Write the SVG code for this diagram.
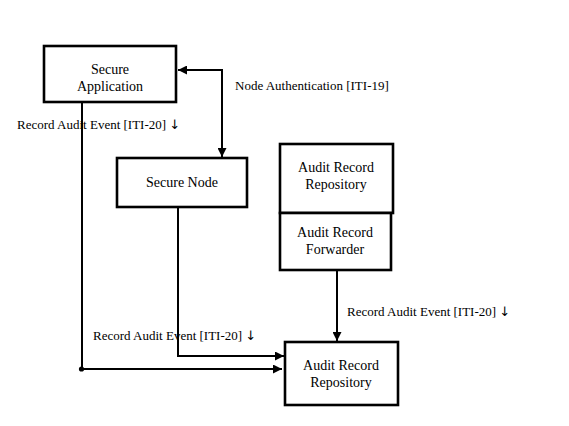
<svg xmlns="http://www.w3.org/2000/svg" width="569" height="426" viewBox="0 0 569 426">
<style>
.box{fill:#fff;stroke:#000;stroke-width:2.6}
.nt{font-family:'Liberation Serif',serif;font-size:14px;fill:#000;text-anchor:middle}
.lb{font-family:'Liberation Serif',serif;font-size:13px;fill:#000}
.ar{font-family:'DejaVu Sans',sans-serif;font-size:13px;fill:#000;stroke:none}
.ln{fill:none;stroke:#000;stroke-width:2}
</style>
<defs>
<marker id="ah" viewBox="0 0 10 10" refX="10" refY="5" markerWidth="4.5" markerHeight="4.5" orient="auto-start-reverse" markerUnits="strokeWidth">
<path d="M0,0 L10,5 L0,10 z" fill="#000"/>
</marker>
</defs>
<rect width="569" height="426" fill="#fff"/>
<g id="connectors">
<polyline class="ln" points="178,70 222,70 222,157" marker-start="url(#ah)" marker-end="url(#ah)"/>
<polyline class="ln" points="82,103 82,369 282,369" marker-end="url(#ah)"/>
<circle cx="81.5" cy="369" r="2.6" fill="#000"/>
<polyline class="ln" points="178,208 178,356 284,356" marker-end="url(#ah)"/>
<line class="ln" x1="337" y1="271" x2="337" y2="341" marker-end="url(#ah)"/>
</g>
<g id="labels">
<text class="lb" x="235" y="90">Node Authentication [ITI-19]</text>
<text class="lb" x="17" y="129">Record Audit Event [ITI-20] <tspan class="ar">↓</tspan></text>
<text class="lb" x="93" y="340">Record Audit Event [ITI-20] <tspan class="ar">↓</tspan></text>
<text class="lb" x="347" y="316">Record Audit Event [ITI-20] <tspan class="ar">↓</tspan></text>
</g>
<g id="secure-application">
<rect class="box" x="44" y="46" width="132" height="56"/>
<text class="nt" x="110" y="74">Secure</text>
<text class="nt" x="110" y="91">Application</text>
</g>
<g id="secure-node">
<rect class="box" x="117" y="158" width="130" height="49"/>
<text class="nt" x="182" y="187">Secure Node</text>
</g>
<g id="audit-record-repository-top">
<rect class="box" x="280" y="144" width="113" height="69"/>
<text class="nt" x="336" y="172">Audit Record</text>
<text class="nt" x="336" y="189">Repository</text>
</g>
<g id="audit-record-forwarder">
<rect class="box" x="280" y="213" width="111" height="57"/>
<text class="nt" x="335" y="237">Audit Record</text>
<text class="nt" x="335" y="254">Forwarder</text>
</g>
<g id="audit-record-repository-bottom">
<rect class="box" x="285" y="342" width="113" height="63"/>
<text class="nt" x="341" y="370">Audit Record</text>
<text class="nt" x="341" y="387">Repository</text>
</g>
</svg>
